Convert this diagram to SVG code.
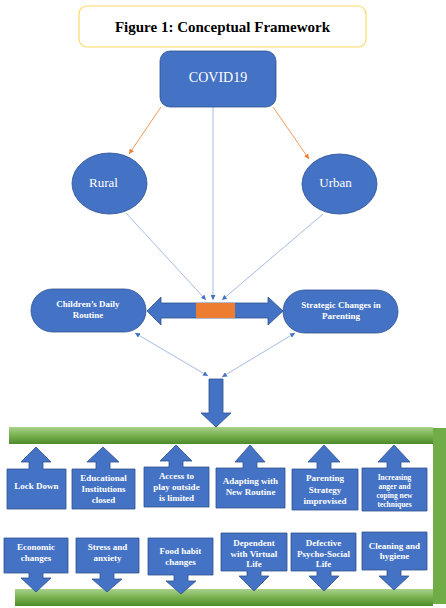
<svg xmlns="http://www.w3.org/2000/svg" width="446" height="608" viewBox="0 0 446 608">
<style>
text{font-family:"Liberation Serif","Times New Roman",serif;fill:#fff;text-anchor:middle}
.b{font-weight:bold;font-size:9px}
.s{font-weight:bold;font-size:7.5px}
.shape{fill:#4472C4;stroke:#2F528F;stroke-width:0.8}
.lb{stroke:#8EA9DB;stroke-width:0.8;fill:none}
.lo{stroke:#ED7D31;stroke-width:0.8;fill:none}
</style>
<defs>
<marker id="ab" viewBox="0 0 6 6" refX="6" refY="3" markerWidth="5" markerHeight="5" markerUnits="userSpaceOnUse" orient="auto-start-reverse"><path d="M0,0 L6,3 L0,6 Z" fill="#4472C4"/></marker>
<marker id="ao" viewBox="0 0 6 6" refX="6" refY="3" markerWidth="5" markerHeight="5" markerUnits="userSpaceOnUse" orient="auto"><path d="M0,0 L6,3 L0,6 Z" fill="#ED7D31"/></marker>
<linearGradient id="g" x1="0" y1="0" x2="0" y2="1">
<stop offset="0" stop-color="#A9D18E"/><stop offset="0.5" stop-color="#78B04E"/><stop offset="1" stop-color="#4E8A2B"/>
</linearGradient>
</defs>

<g id="title">
<rect x="79" y="6" width="287" height="41" rx="8" fill="#fff" stroke="#FFD966" stroke-width="1.2"/>
<text x="222.5" y="32" style="fill:#000;font-weight:bold;font-size:15px">Figure 1: Conceptual Framework</text>
</g>

<g id="connectors">
<line class="lo" x1="161" y1="107" x2="129" y2="154" marker-end="url(#ao)"/>
<line class="lo" x1="273" y1="107" x2="309" y2="159" marker-end="url(#ao)"/>
<line class="lb" x1="213" y1="107" x2="213" y2="300" marker-end="url(#ab)"/>
<line class="lb" x1="126" y1="213" x2="206" y2="300" marker-end="url(#ab)"/>
<line class="lb" x1="323" y1="214" x2="222" y2="300" marker-end="url(#ab)"/>
<line class="lb" x1="135" y1="333" x2="208" y2="376" marker-start="url(#ab)" marker-end="url(#ab)"/>
<line class="lb" x1="295" y1="333" x2="222" y2="377" marker-start="url(#ab)" marker-end="url(#ab)"/>
</g>

<g id="covid19">
<rect class="shape" x="160" y="51" width="116" height="56" rx="10"/>
<text x="218" y="82" style="font-size:14px">COVID19</text>
</g>

<g id="rural">
<ellipse class="shape" cx="109.5" cy="183.5" rx="37.5" ry="30.5"/>
<text x="103.5" y="187" style="font-size:13px">Rural</text>
</g>

<g id="urban">
<ellipse class="shape" cx="339.5" cy="184" rx="37.5" ry="30"/>
<text x="335.5" y="187" style="font-size:13px">Urban</text>
</g>

<g id="children-routine">
<rect class="shape" x="31" y="289" width="115" height="43" rx="21.5"/>
<text class="b" x="88" y="307">Children’s Daily</text>
<text class="b" x="88" y="318">Routine</text>
</g>

<g id="strategic-changes">
<rect class="shape" x="283" y="290" width="115" height="43" rx="21.5"/>
<text class="b" x="341" y="308">Strategic Changes in</text>
<text class="b" x="341" y="319">Parenting</text>
</g>

<g id="double-arrow">
<path class="shape" d="M147,311 L161,297 L161,303 L268,303 L268,297 L283,311 L268,325 L268,318 L161,318 L161,325 Z"/>
<rect x="196" y="303" width="39" height="15" fill="#ED7D31"/>
</g>

<g id="down-arrow">
<path class="shape" d="M209,379 L223,379 L223,413 L231,413 L216,427 L201,413 L209,413 Z"/>
</g>

<g id="frame">
<rect x="9" y="427" width="424" height="17" fill="url(#g)"/>
<rect x="433" y="428" width="13" height="176" fill="#70AD47"/>
<rect x="15" y="589" width="418" height="17" fill="url(#g)"/>
</g>

<g id="lock-down">
<path class="shape" d="M7,509 L7,469 L29,469 L29,462 L21,462 L36,447 L51,462 L43,462 L43,469 L66,469 L66,509 Z"/>
<text class="b" x="36.5" y="489">Lock Down</text>
</g>
<g id="educational-institutions">
<path class="shape" d="M72,509 L72,469 L96,469 L96,462 L87,462 L103,447 L119,462 L110,462 L110,469 L135,469 L135,509 Z"/>
<text class="b" x="103.5" y="481">Educational</text>
<text class="b" x="103.5" y="492">Institutions</text>
<text class="b" x="103.5" y="503">closed</text>
</g>
<g id="access-play">
<path class="shape" d="M144,507 L144,467 L169,467 L169,461 L160,461 L176,445 L192,461 L183,461 L183,467 L209,467 L209,507 Z"/>
<text class="b" x="176.5" y="479">Access to</text>
<text class="b" x="176.5" y="490">play outside</text>
<text class="b" x="176.5" y="501">is limited</text>
</g>
<g id="adapting-routine">
<path class="shape" d="M216,508 L216,468 L243,468 L243,462 L235,462 L250,445 L265,462 L257,462 L257,468 L285,468 L285,508 Z"/>
<text class="b" x="250.5" y="484">Adapting with</text>
<text class="b" x="250.5" y="495">New Routine</text>
</g>
<g id="parenting-strategy">
<path class="shape" d="M292,510 L292,469 L317,469 L317,462 L308,462 L324,445 L340,462 L331,462 L331,469 L358,469 L358,510 Z"/>
<text class="b" x="325" y="481">Parenting</text>
<text class="b" x="325" y="493">Strategy</text>
<text class="b" x="325" y="504">improvised</text>
</g>
<g id="increasing-anger">
<path class="shape" d="M362,511 L362,468 L387,468 L387,462 L378,462 L394,445 L410,462 L401,462 L401,468 L427,468 L427,511 Z"/>
<text class="s" x="394.5" y="480">Increasing</text>
<text class="s" x="394.5" y="489">anger and</text>
<text class="s" x="394.5" y="498">coping new</text>
<text class="s" x="394.5" y="507">techniques</text>
</g>

<g id="economic-changes">
<path class="shape" d="M4,538 L68,538 L68,573 L43,573 L43,578 L51,578 L36,592 L21,578 L29,578 L29,573 L4,573 Z"/>
<text class="b" x="36" y="550">Economic</text>
<text class="b" x="36" y="561">changes</text>
</g>
<g id="stress-anxiety">
<path class="shape" d="M76,538 L139,538 L139,573 L114,573 L114,579 L122,579 L107,592 L92,579 L100,579 L100,573 L76,573 Z"/>
<text class="b" x="107.5" y="550">Stress and</text>
<text class="b" x="107.5" y="561">anxiety</text>
</g>
<g id="food-habit">
<path class="shape" d="M148,538 L213,538 L213,575 L188,575 L188,581 L196,581 L181,594 L166,581 L174,581 L174,575 L148,575 Z"/>
<text class="b" x="180.5" y="554">Food habit</text>
<text class="b" x="180.5" y="565">changes</text>
</g>
<g id="dependent-virtual">
<path class="shape" d="M221,533 L287,533 L287,571 L261,571 L261,576 L269,576 L254,591 L239,576 L247,576 L247,571 L221,571 Z"/>
<text class="b" x="254" y="546">Dependent</text>
<text class="b" x="254" y="557">with Virtual</text>
<text class="b" x="254" y="567">Life</text>
</g>
<g id="defective-psycho-social">
<path class="shape" d="M291,533 L356,533 L356,571 L331,571 L331,576 L339,576 L324,591 L309,576 L317,576 L317,571 L291,571 Z"/>
<text class="b" x="323.5" y="546">Defective</text>
<text class="b" x="323.5" y="557">Psycho-Social</text>
<text class="b" x="323.5" y="567">Life</text>
</g>
<g id="cleaning-hygiene">
<path class="shape" d="M362,532 L427,532 L427,570 L401,570 L401,576 L409,576 L394,590 L379,576 L387,576 L387,570 L362,570 Z"/>
<text class="b" x="394.5" y="549">Cleaning and</text>
<text class="b" x="394.5" y="559">hygiene</text>
</g>
</svg>
